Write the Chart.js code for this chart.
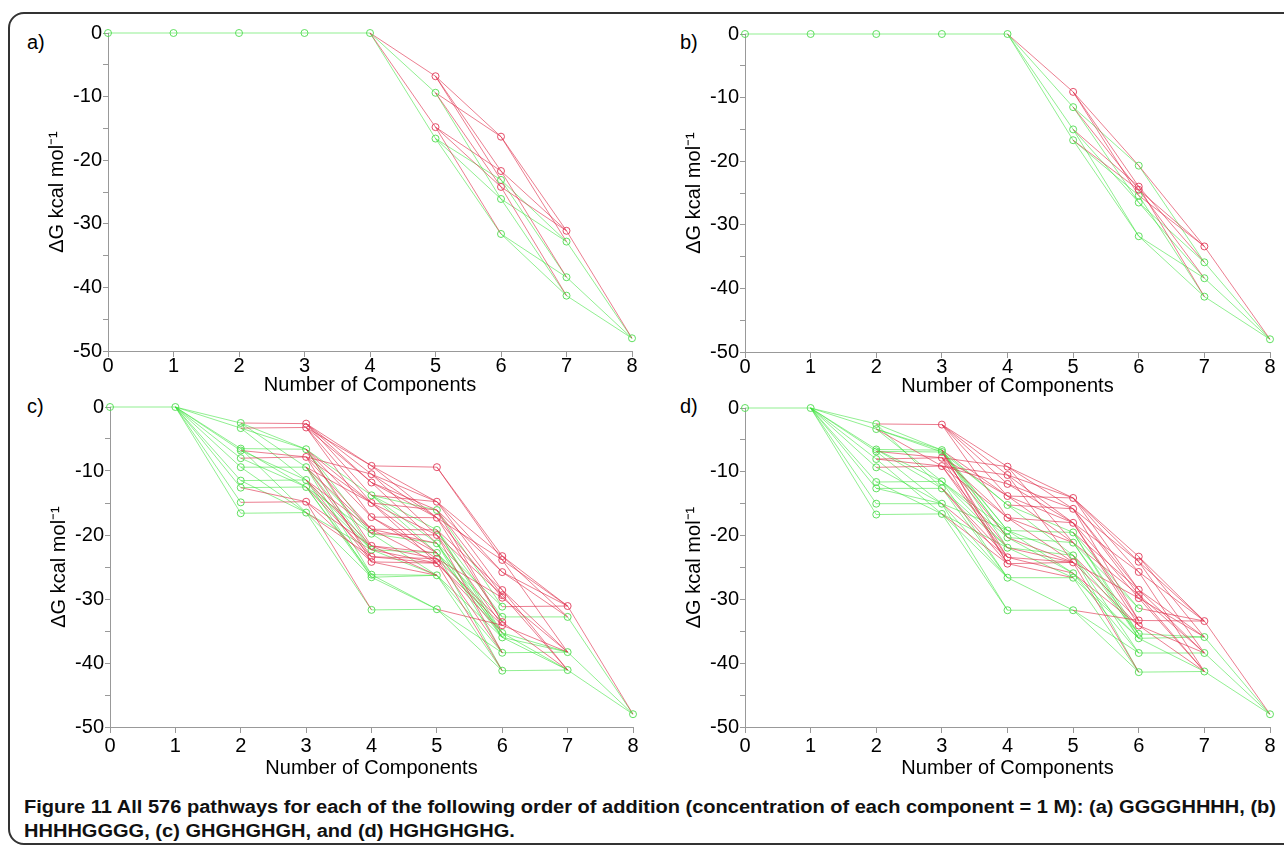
<!DOCTYPE html>
<html><head><meta charset="utf-8">
<script src="https://cdn.jsdelivr.net/npm/chart.js@4/dist/chart.umd.min.js"></script>
<style>
html,body{margin:0;padding:0;background:#fff;width:1284px;height:851px;overflow:hidden;font-family:"Liberation Sans",Arial,sans-serif}
#frame{position:absolute;left:8px;top:12px;width:1310px;height:833px;border:2px solid #333;border-radius:16px;box-sizing:border-box}
canvas{position:absolute}
.lbl{position:absolute;font-size:20px;line-height:20px;color:#000}
.cap{position:absolute;left:24px;font-weight:bold;font-size:18px;line-height:20px;white-space:nowrap;transform-origin:0 50%;color:#111}
</style></head><body>
<div id="frame"></div>
<div class="lbl" style="left:27px;top:32px">a)</div>
<div class="lbl" style="left:680px;top:32px">b)</div>
<div class="lbl" style="left:27px;top:396px">c)</div>
<div class="lbl" style="left:680px;top:396px">d)</div>
<div class="cap" id="cap1" style="top:797px"><span style="font-weight:900">Figure 11</span> All 576 pathways for each of the following order of addition (concentration of each component = 1 M): (a) GGGGHHHH, (b)</div>
<div class="cap" id="cap2" style="top:821px">HHHHGGGG, (c) GHGHGHGH, and (d) HGHGHGHG.</div>
<script>
// ---- data: each edge is [level, value at level, value at level+1] ----
const levels = [0,1,2,3,4,5,6,7,8];
const yTickValues = [0,-10,-20,-30,-40,-50];

const aEdges = [
 [0,0,0],[1,0,0],[2,0,0],[3,0,0],
 [4,0,-6.8],[4,0,-9.4],[4,0,-14.8],[4,0,-16.6],
 [5,-6.8,-16.3],[5,-6.8,-21.7],[5,-6.8,-23.1],
 [5,-9.4,-16.3],[5,-9.4,-24.2],[5,-9.4,-26.1],
 [5,-14.8,-21.7],[5,-14.8,-24.2],[5,-14.8,-31.6],
 [5,-16.6,-23.1],[5,-16.6,-26.1],[5,-16.6,-31.6],
 [6,-16.3,-31.1],[6,-16.3,-32.8],[6,-21.7,-31.1],[6,-21.7,-38.4],
 [6,-23.1,-32.8],[6,-23.1,-38.4],[6,-24.2,-31.1],[6,-24.2,-41.3],
 [6,-26.1,-32.8],[6,-26.1,-41.3],[6,-31.6,-38.4],[6,-31.6,-41.3],
 [7,-31.1,-48],[7,-32.8,-48],[7,-38.4,-48],[7,-41.3,-48]
];
const aRed = [[5,-6.8],[5,-14.8],[6,-16.3],[6,-21.7],[6,-24.2],[7,-31.1]];

const bEdges = [
 [0,0,0],[1,0,0],[2,0,0],[3,0,0],
 [4,0,-9.1],[4,0,-11.5],[4,0,-15.0],[4,0,-16.7],
 [5,-9.1,-20.7],[5,-9.1,-24.0],[5,-9.1,-25.4],
 [5,-11.5,-20.7],[5,-11.5,-26.5],[5,-11.5,-24.5],
 [5,-15.0,-24.0],[5,-15.0,-26.5],[5,-15.0,-31.8],
 [5,-16.7,-25.4],[5,-16.7,-24.5],[5,-16.7,-31.8],
 [6,-20.7,-35.9],[6,-20.7,-33.4],[6,-24.0,-35.9],[6,-24.0,-41.3],
 [6,-25.4,-33.4],[6,-25.4,-41.3],[6,-26.5,-35.9],[6,-26.5,-38.4],
 [6,-24.5,-33.4],[6,-24.5,-38.4],[6,-31.8,-41.3],[6,-31.8,-38.4],
 [7,-35.9,-48],[7,-33.4,-48],[7,-41.3,-48],[7,-38.4,-48]
];
const bRed = [[5,-9.1],[6,-24.0],[6,-24.5],[7,-33.4]];

const cEdges = [
 [0,0,0],
 [1,0,-2.5],[1,0,-3.3],[1,0,-6.5],[1,0,-6.8],[1,0,-8.0],[1,0,-9.4],[1,0,-11.5],[1,0,-12.6],[1,0,-14.9],[1,0,-16.6],
 [2,-2.5,-2.6],[2,-2.5,-6.6],[2,-2.5,-9.4],
 [2,-3.3,-3.2],[2,-3.3,-6.6],[2,-3.3,-11.4],
 [2,-6.5,-6.6],[2,-6.5,-12.5],[2,-6.5,-16.5],
 [2,-6.8,-7.8],[2,-6.8,-11.4],
 [2,-8.0,-7.8],[2,-8.0,-12.5],
 [2,-9.4,-9.4],[2,-9.4,-16.5],
 [2,-11.5,-11.4],[2,-11.5,-16.5],
 [2,-12.6,-12.5],[2,-12.6,-14.8],
 [2,-14.9,-14.8],[2,-16.6,-16.5],
 [3,-2.6,-9.2],[3,-2.6,-10.5],[3,-2.6,-11.8],[3,-2.6,-13.8],
 [3,-3.2,-9.2],[3,-3.2,-11.8],[3,-3.2,-15.0],[3,-3.2,-17.2],
 [3,-6.6,-13.8],[3,-6.6,-17.2],[3,-6.6,-19.8],[3,-6.6,-22.3],[3,-6.6,-15.0],[3,-6.6,-21.7],
 [3,-7.8,-10.5],[3,-7.8,-15.0],[3,-7.8,-19.1],[3,-7.8,-24.2],
 [3,-9.4,-15.0],[3,-9.4,-19.8],[3,-9.4,-22.3],[3,-9.4,-26.2],[3,-9.4,-23.4],[3,-9.4,-19.1],
 [3,-11.4,-19.1],[3,-11.4,-21.7],[3,-11.4,-26.6],[3,-11.4,-24.2],[3,-11.4,-22.3],
 [3,-12.5,-19.8],[3,-12.5,-23.4],[3,-12.5,-26.2],[3,-12.5,-26.6],[3,-12.5,-22.3],
 [3,-14.8,-21.7],[3,-14.8,-24.2],[3,-14.8,-31.7],
 [3,-16.5,-22.3],[3,-16.5,-26.6],[3,-16.5,-31.7],[3,-16.5,-23.4],
 [4,-9.2,-9.4],[4,-9.2,-14.8],[4,-9.2,-17.3],
 [4,-10.5,-14.8],[4,-10.5,-17.3],[4,-10.5,-20.0],
 [4,-11.8,-16.1],[4,-11.8,-17.3],[4,-11.8,-21.3],
 [4,-13.8,-14.8],[4,-13.8,-16.1],[4,-13.8,-19.2],[4,-13.8,-22.8],[4,-13.8,-21.3],
 [4,-15.0,-16.1],[4,-15.0,-20.0],[4,-15.0,-24.4],[4,-15.0,-22.8],
 [4,-17.2,-17.3],[4,-17.2,-23.7],[4,-17.2,-22.8],
 [4,-19.1,-19.2],[4,-19.1,-24.4],[4,-19.1,-21.3],
 [4,-19.8,-20.0],[4,-19.8,-21.3],[4,-19.8,-26.3],
 [4,-21.7,-22.8],[4,-21.7,-23.7],[4,-21.7,-26.3],
 [4,-22.3,-22.8],[4,-22.3,-26.3],[4,-22.3,-24.4],
 [4,-23.4,-23.7],[4,-23.4,-24.4],
 [4,-24.2,-24.4],[4,-24.2,-26.3],
 [4,-26.2,-26.3],[4,-26.6,-26.3],[4,-26.6,-31.6],[4,-26.2,-31.6],
 [4,-31.7,-31.6],
 [5,-9.4,-23.3],[5,-9.4,-23.9],
 [5,-14.8,-23.3],[5,-14.8,-25.8],[5,-14.8,-28.6],
 [5,-16.1,-25.8],[5,-16.1,-29.4],[5,-16.1,-31.2],[5,-16.1,-33.6],
 [5,-17.3,-23.9],[5,-17.3,-29.8],[5,-17.3,-33.6],
 [5,-19.2,-28.6],[5,-19.2,-32.8],[5,-19.2,-35.3],[5,-19.2,-36.0],
 [5,-20.0,-29.4],[5,-20.0,-34.1],[5,-20.0,-38.4],
 [5,-21.3,-31.2],[5,-21.3,-36.0],[5,-21.3,-38.4],[5,-21.3,-35.3],
 [5,-22.8,-32.8],[5,-22.8,-35.3],[5,-22.8,-41.2],[5,-22.8,-36.0],
 [5,-23.7,-29.8],[5,-23.7,-33.6],[5,-23.7,-38.4],
 [5,-24.4,-34.1],[5,-24.4,-41.2],[5,-24.4,-35.3],
 [5,-26.3,-36.0],[5,-26.3,-38.4],[5,-26.3,-41.2],
 [5,-31.6,-34.1],[5,-31.6,-38.4],[5,-31.6,-41.2],
 [6,-23.3,-31.1],[6,-23.3,-32.8],[6,-23.9,-31.1],[6,-23.9,-38.3],
 [6,-25.8,-31.1],[6,-25.8,-32.8],[6,-28.6,-38.3],[6,-28.6,-41.1],
 [6,-29.4,-41.1],[6,-29.8,-38.3],[6,-31.2,-31.1],[6,-32.8,-32.8],
 [6,-33.6,-41.1],[6,-34.1,-38.3],[6,-35.3,-38.3],[6,-35.3,-41.1],
 [6,-36.0,-38.3],[6,-36.0,-41.1],[6,-38.4,-38.3],[6,-41.2,-41.1],
 [7,-31.1,-48],[7,-32.8,-48],[7,-38.3,-48],[7,-41.1,-48]
];
const cRed = [[3,-2.6],[3,-3.2],[3,-7.8],[3,-14.8],
 [4,-9.2],[4,-10.5],[4,-11.8],[4,-15.0],[4,-17.2],[4,-19.1],[4,-21.7],[4,-23.4],[4,-24.2],
 [5,-9.4],[5,-14.8],[5,-17.3],[5,-20.0],[5,-23.7],[5,-24.4],
 [6,-23.3],[6,-23.9],[6,-25.8],[6,-28.6],[6,-29.4],[6,-29.8],[6,-33.6],[6,-34.1],[7,-31.1]];

const dEdges = [
 [0,0,0],
 [1,0,-2.5],[1,0,-3.3],[1,0,-6.5],[1,0,-6.8],[1,0,-8.0],[1,0,-9.3],[1,0,-11.6],[1,0,-12.6],[1,0,-15.0],[1,0,-16.7],
 [2,-2.5,-2.6],[2,-2.5,-6.6],[2,-2.5,-12.6],
 [2,-3.3,-6.6],[2,-3.3,-6.9],[2,-3.3,-11.5],[2,-3.3,-9.1],
 [2,-6.5,-6.6],[2,-6.5,-12.6],[2,-6.5,-11.5],
 [2,-6.8,-6.9],[2,-6.8,-7.8],[2,-6.8,-15.0],
 [2,-8.0,-7.8],[2,-8.0,-9.1],[2,-8.0,-16.6],
 [2,-9.3,-9.1],[2,-9.3,-15.0],
 [2,-11.6,-11.5],[2,-11.6,-16.6],
 [2,-12.6,-12.6],[2,-12.6,-15.0],
 [2,-15.0,-15.0],[2,-16.7,-16.6],
 [3,-2.6,-9.2],[3,-2.6,-10.5],[3,-2.6,-11.9],[3,-2.6,-13.8],[3,-2.6,-17.2],
 [3,-6.6,-13.8],[3,-6.6,-15.2],[3,-6.6,-19.2],[3,-6.6,-20.3],[3,-6.6,-21.9],[3,-6.6,-24.4],
 [3,-6.9,-15.2],[3,-6.9,-19.2],[3,-6.9,-23.4],[3,-6.9,-20.3],
 [3,-7.8,-9.2],[3,-7.8,-17.2],[3,-7.8,-20.3],[3,-7.8,-24.4],[3,-7.8,-13.8],
 [3,-9.1,-10.5],[3,-9.1,-11.9],[3,-9.1,-21.9],[3,-9.1,-23.4],[3,-9.1,-17.2],
 [3,-11.5,-19.2],[3,-11.5,-20.3],[3,-11.5,-26.6],[3,-11.5,-21.9],
 [3,-12.6,-21.9],[3,-12.6,-24.4],[3,-12.6,-26.6],[3,-12.6,-23.4],
 [3,-15.0,-23.4],[3,-15.0,-26.6],[3,-15.0,-31.7],[3,-15.0,-19.2],
 [3,-16.6,-24.4],[3,-16.6,-26.6],[3,-16.6,-31.7],[3,-16.6,-21.9],
 [4,-9.2,-14.1],[4,-9.2,-15.8],[4,-9.2,-21.1],
 [4,-10.5,-14.1],[4,-10.5,-18.0],[4,-10.5,-24.2],
 [4,-11.9,-15.8],[4,-11.9,-18.0],
 [4,-13.8,-14.1],[4,-13.8,-21.1],[4,-13.8,-18.0],
 [4,-15.2,-15.8],[4,-15.2,-19.5],[4,-15.2,-23.1],
 [4,-17.2,-18.0],[4,-17.2,-24.2],[4,-17.2,-21.1],
 [4,-19.2,-19.5],[4,-19.2,-23.1],[4,-19.2,-25.9],
 [4,-20.3,-21.1],[4,-20.3,-25.9],[4,-20.3,-24.2],
 [4,-21.9,-23.1],[4,-21.9,-24.2],[4,-21.9,-26.6],
 [4,-23.4,-24.2],[4,-23.4,-25.9],
 [4,-24.4,-24.2],[4,-24.4,-26.6],
 [4,-26.6,-26.6],[4,-26.6,-31.7],
 [4,-31.7,-31.7],
 [5,-14.1,-23.3],[5,-14.1,-25.7],[5,-14.1,-24.1],[5,-14.1,-28.5],
 [5,-15.8,-24.1],[5,-15.8,-28.5],[5,-15.8,-29.3],[5,-15.8,-33.3],
 [5,-18.0,-25.7],[5,-18.0,-29.8],[5,-18.0,-33.3],[5,-18.0,-34.1],
 [5,-19.5,-28.5],[5,-19.5,-31.4],[5,-19.5,-35.4],[5,-19.5,-36.1],
 [5,-21.1,-29.3],[5,-21.1,-31.4],[5,-21.1,-36.1],[5,-21.1,-35.4],
 [5,-23.1,-33.3],[5,-23.1,-35.4],[5,-23.1,-38.4],[5,-23.1,-41.4],
 [5,-24.2,-29.8],[5,-24.2,-34.1],[5,-24.2,-41.4],
 [5,-25.9,-34.1],[5,-25.9,-36.1],[5,-25.9,-38.4],
 [5,-26.6,-36.1],[5,-26.6,-41.4],
 [5,-31.7,-33.3],[5,-31.7,-38.4],[5,-31.7,-41.4],
 [6,-23.3,-33.4],[6,-23.3,-35.9],[6,-24.1,-33.4],[6,-24.1,-38.4],
 [6,-25.7,-33.4],[6,-25.7,-41.3],[6,-28.5,-35.9],[6,-28.5,-38.4],
 [6,-29.3,-38.4],[6,-29.3,-41.3],[6,-29.8,-35.9],[6,-29.8,-41.3],
 [6,-31.4,-33.4],[6,-33.3,-33.4],[6,-34.1,-38.4],[6,-34.1,-41.3],
 [6,-35.4,-35.9],[6,-36.1,-35.9],[6,-36.1,-41.3],[6,-38.4,-38.4],[6,-41.4,-41.3],
 [7,-33.4,-48],[7,-35.9,-48],[7,-38.4,-48],[7,-41.3,-48]
];
const dRed = [[3,-2.6],[3,-7.8],[3,-9.1],
 [4,-9.2],[4,-10.5],[4,-11.9],[4,-13.8],[4,-17.2],[4,-23.4],[4,-24.4],
 [5,-14.1],[5,-15.8],[5,-18.0],[5,-24.2],
 [6,-23.3],[6,-24.1],[6,-25.7],[6,-28.5],[6,-29.3],[6,-29.8],[6,-33.3],[6,-34.1],[7,-33.4]];

// ---- layout / style ----
const FONT = '"Liberation Sans", Arial, sans-serif';
const LINE_G = 'rgba(55,225,55,0.55)', LINE_R = 'rgba(222,40,70,0.6)';
const NODE_G = 'rgba(80,220,80,0.9)', NODE_R = 'rgba(225,60,90,0.9)';
const YW = 63, PT = 15, PR = 15;
const panels = [
 {edges:aEdges, red:aRed, L:108, R:632, T:33, B:351, XH:46, tp:-3},
 {edges:bEdges, red:bRed, L:745, R:1270, T:34, B:352, XH:46, tp:-3},
 {edges:cEdges, red:cRed, L:110, R:633, T:407, B:727, XH:53, tp:1},
 {edges:dEdges, red:dRed, L:745, R:1270, T:408, B:727, XH:53, tp:1}
];

panels.forEach(p => {
  const cv = document.createElement('canvas');
  const left = p.L - YW, top = p.T - PT;
  const w = p.R + PR - left, h = p.B + p.XH - top;
  cv.width = w; cv.height = h;
  cv.style.left = left + 'px'; cv.style.top = top + 'px';
  cv.style.width = w + 'px'; cv.style.height = h + 'px';
  document.body.appendChild(cv);
  const key = (x, y) => x + '|' + y.toFixed(1);
  const redSet = new Set(p.red.map(r => key(r[0], r[1])));
  const nodes = new Map();
  p.edges.forEach(e => {
    nodes.set(key(e[0], e[1]), {x:e[0], y:e[1]});
    nodes.set(key(e[0]+1, e[2]), {x:e[0]+1, y:e[2]});
  });
  const edgeSets = p.edges.map(e => {
    const red = redSet.has(key(e[0], e[1])) || redSet.has(key(e[0]+1, e[2]));
    return {data:[{x:e[0], y:e[1]}, {x:e[0]+1, y:e[2]}], showLine:true, borderColor: red ? LINE_R : LINE_G,
      borderWidth:1, pointRadius:0, clip:false, order: red ? 1 : 2};
  });
  const nodeList = [...nodes.entries()];
  const redNodes = nodeList.filter(([k]) => redSet.has(k)).map(([, v]) => v);
  const greenNodes = nodeList.filter(([k]) => !redSet.has(k)).map(([, v]) => v);
  const nodeSet = (data, col) => ({data, showLine:false, pointStyle:'circle', pointRadius:3.5,
    pointBorderColor:col, pointBackgroundColor:'rgba(0,0,0,0)', pointBorderWidth:1, clip:false, order:0});
  new Chart(cv, {
    type:'scatter',
    data:{datasets:[nodeSet(redNodes, NODE_R), nodeSet(greenNodes, NODE_G), ...edgeSets]},
    options:{
      responsive:false, animation:false, events:[],
      layout:{padding:{top:PT, right:PR, left:0, bottom:0}},
      plugins:{legend:{display:false}, tooltip:{enabled:false}},
      scales:{
        x:{type:'linear', min:0, max:8,
          afterBuildTicks: s => { s.ticks = levels.map(v => ({value:v})); },
          ticks:{font:{family:FONT, size:20}, color:'#000', padding:p.tp, maxRotation:0, autoSkip:false},
          grid:{display:true, drawOnChartArea:false, drawTicks:true, tickLength:6, color:'#999'},
          border:{display:true, color:'#999'},
          title:{display:true, text:'Number of Components', font:{family:FONT, size:20}, color:'#000', padding:0},
          afterFit: s => { s.height = p.XH; }
        },
        y:{type:'linear', min:-50, max:0,
          ticks:{stepSize:5, font:{family:FONT, size:20}, color:'#000', padding:1,
            callback: v => yTickValues.includes(v) ? String(v) : ''},
          grid:{display:true, drawOnChartArea:false, drawTicks:true, tickLength:5, color:'#999'},
          border:{display:true, color:'#999'},
          title:{display:true, text:'\u0394G kcal mol\u207B\u00B9', font:{family:FONT, size:20}, color:'#000', padding:0},
          afterFit: s => { s.width = YW; }
        }
      }
    }
  });
});

// fit caption width to the reference text block
const c1 = document.getElementById('cap1'), c2 = document.getElementById('cap2');
const sx = 1252 / c1.getBoundingClientRect().width;
c1.style.transform = 'scaleX(' + sx + ')';
c2.style.transform = 'scaleX(' + sx + ')';
</script>
</body></html>
